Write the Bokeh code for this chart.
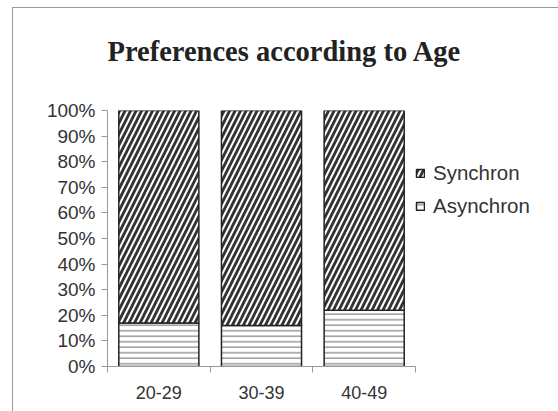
from bokeh.plotting import figure
from bokeh.models import Range1d, FixedTicker, NumeralTickFormatter, Legend, LegendItem
from bokeh.embed import file_html
from bokeh.resources import INLINE

# Share of respondents preferring each mode, by age group
categories = ["20-29", "30-39", "40-49"]
asynchron = [0.17, 0.16, 0.22]
synchron = [0.83, 0.84, 0.78]

x_pos = [i + 0.5 for i in range(len(categories))]
async_top = asynchron
sync_bottom = asynchron
sync_top = [a + s for a, s in zip(asynchron, synchron)]

p = figure(
    frame_width=308, frame_height=256,
    x_range=Range1d(0, len(categories)), y_range=Range1d(0, 1),
    output_backend="svg", toolbar_location=None,
    min_border_left=94, min_border_right=0, min_border_top=102, min_border_bottom=45,
    title="Preferences according to Age",
)
p.margin = (7, 0, 0, 12)
p.styles = {"border-top": "1px solid #9a9a9a", "border-left": "1px solid #9a9a9a",
            "border-right": "1px solid #d0d0d0"}

p.title.text_font = "Liberation Serif"
p.title.text_font_size = "28.5px"
p.title.text_font_style = "bold"
p.title.text_color = "#222222"
p.title.align = "left"
p.title.vertical_align = "bottom"
p.title.offset = 0
# lift the title well clear of the bars without growing the top border
try:
    p.title.padding = {"top": 0, "right": 0, "bottom": 42, "left": 0}
    p.title.standoff = 4
except Exception:
    p.title.standoff = 68

p.outline_line_color = None
p.grid.grid_line_color = None
p.background_fill_color = "white"
p.border_fill_color = "white"

bar_w = 0.78
r_async = p.vbar(x=x_pos, width=bar_w, bottom=0, top=async_top,
                 fill_color="white", line_color="#222222", line_width=1.5,
                 hatch_pattern="horizontal_line", hatch_color="#8a8a8a",
                 hatch_scale=5.5, hatch_weight=1.3)
r_sync = p.vbar(x=x_pos, width=bar_w, bottom=sync_bottom, top=sync_top,
                fill_color="white", line_color="#222222", line_width=1.5,
                hatch_pattern="right_diagonal_line", hatch_color="#333333",
                hatch_scale=11, hatch_weight=2.8)

# x axis: labels under bar centres, tick marks between groups
xa = p.xaxis[0]
xa.ticker = FixedTicker(ticks=x_pos, minor_ticks=list(range(len(categories) + 1)))
xa.major_label_overrides = {x: c for x, c in zip(x_pos, categories)}
xa.major_tick_out = 0
xa.major_tick_in = 0
xa.minor_tick_out = 6
xa.minor_tick_in = 0
xa.minor_tick_line_color = "#999999"
xa.axis_line_color = "#999999"
xa.major_label_standoff = 13
xa.major_label_text_font = "Liberation Sans"
xa.major_label_text_font_size = "18px"
xa.major_label_text_color = "#333333"

ya = p.yaxis[0]
ya.ticker = FixedTicker(ticks=[i / 10 for i in range(11)])
ya.formatter = NumeralTickFormatter(format="0%")
ya.minor_tick_line_color = None
ya.major_tick_out = 6
ya.major_tick_in = 0
ya.major_tick_line_color = "#999999"
ya.axis_line_color = "#999999"
ya.major_label_standoff = 6
ya.major_label_text_font = "Liberation Sans"
ya.major_label_text_font_size = "19px"
ya.major_label_text_color = "#333333"

legend = Legend(items=[LegendItem(label="Synchron", renderers=[r_sync]),
                       LegendItem(label="Asynchron", renderers=[r_async])],
                location=(0, 148))
legend.glyph_width = 10
legend.glyph_height = 10
legend.label_text_font = "Liberation Sans"
legend.label_text_font_size = "20.5px"
legend.label_text_color = "#333333"
legend.border_line_color = None
legend.background_fill_alpha = 0
legend.padding = 0
legend.margin = 0
legend.spacing = 9
legend.label_standoff = 8
p.add_layout(legend, "right")

open("out.html", "w").write(file_html(p, INLINE))
